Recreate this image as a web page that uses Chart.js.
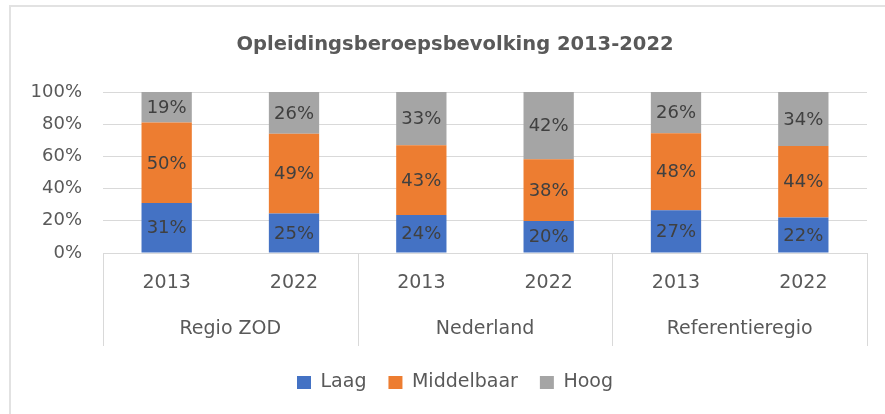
<!DOCTYPE html>
<html>
<head>
<meta charset="utf-8">
<script src="https://cdn.jsdelivr.net/npm/chart.js@4"></script>
<style>
  html, body { margin: 0; padding: 0; background: #fff; overflow: hidden; }
  #wrap { position: relative; width: 885px; height: 414px; overflow: hidden; }
  #frame { position: absolute; left: 9px; top: 5px; width: 1000px; height: 600px;
           border-left: 2px solid #E2E2E2; border-top: 2px solid #E2E2E2; }
  #chart { position: absolute; left: 0; top: 0; }
</style>
</head>
<body>
<div id="wrap">
  <div id="frame"></div>
  <canvas id="chart" width="900" height="414"></canvas>
</div>
<script>
// Opleidingsberoepsbevolking - stacked 100% bars, grouped per regio

const groups = ['Regio ZOD', 'Nederland', 'Referentieregio'];
const years = ['2013', '2022', '2013', '2022', '2013', '2022'];

const laag       = [31.0, 24.6, 23.6, 19.9, 26.6, 22.1];
const middelbaar = [50.0, 49.4, 43.4, 38.4, 47.8, 44.3];
const hoog       = [19.0, 26.0, 33.0, 41.7, 25.6, 33.6];

const yTicks = [0, 20, 40, 60, 80, 100];

const TEXT = '#595959';
const GRID = '#D9D9D9';
const FONT = 'DejaVu Sans';

// values inside every bar segment
const barLabels = {
    id: 'barLabels',
    afterDatasetsDraw(chart) {
        const ctx = chart.ctx;
        ctx.save();
        ctx.font = '18px "' + FONT + '"';
        ctx.fillStyle = '#404040';
        ctx.textAlign = 'center';
        ctx.textBaseline = 'middle';
        chart.data.datasets.forEach((ds, i) => {
            chart.getDatasetMeta(i).data.forEach((bar, j) => {
                const y = (bar.y + bar.base) / 2;
                ctx.fillText(Math.round(ds.data[j]) + '%', bar.x, y + 1);
            });
        });
        ctx.restore();
    }
};

// second row of the category axis: group names + separators
const groupAxis = {
    id: 'groupAxis',
    afterDraw(chart) {
        const x = chart.scales.x;
        const ctx = chart.ctx;
        const top = chart.chartArea.bottom;
        const bottom = x.bottom - 5;
        const per = years.length / groups.length;

        const edges = [chart.chartArea.left];
        for (let g = 1; g < groups.length; g++) {
            edges.push((x.getPixelForValue(g * per - 1) + x.getPixelForValue(g * per)) / 2);
        }
        edges.push(chart.chartArea.right);

        ctx.save();
        ctx.strokeStyle = GRID;
        ctx.lineWidth = 1;
        edges.forEach(e => {
            const px = Math.round(e) + 0.5;
            ctx.beginPath();
            ctx.moveTo(px, top);
            ctx.lineTo(px, bottom);
            ctx.stroke();
        });

        ctx.font = '19px "' + FONT + '"';
        ctx.fillStyle = TEXT;
        ctx.textAlign = 'center';
        ctx.textBaseline = 'middle';
        groups.forEach((name, g) => {
            const cx = (x.getPixelForValue(g * per) + x.getPixelForValue(g * per + per - 1)) / 2;
            ctx.fillText(name, cx, 329);
        });
        ctx.restore();
    }
};

new Chart(document.getElementById('chart'), {
    type: 'bar',
    data: {
        labels: years,
        datasets: [
            { label: 'Laag', data: laag, backgroundColor: '#4472C4' },
            { label: 'Middelbaar', data: middelbaar, backgroundColor: '#ED7D31' },
            { label: 'Hoog', data: hoog, backgroundColor: '#A5A5A5' }
        ]
    },
    options: {
        responsive: false,
        animation: false,
        devicePixelRatio: 1,
        barPercentage: 0.395,
        categoryPercentage: 1,
        layout: { padding: { left: 10, right: 0, top: 0, bottom: 12 } },
        plugins: {
            title: {
                display: true,
                text: 'Opleidingsberoepsbevolking 2013-2022',
                color: TEXT,
                font: { family: FONT, size: 19.5, weight: 'bold' },
                padding: { top: 33.6, bottom: 35 }
            },
            legend: {
                position: 'bottom',
                labels: {
                    color: TEXT,
                    font: { family: FONT, size: 19 },
                    boxWidth: 14,
                    boxHeight: 13,
                    padding: 22
                }
            },
            tooltip: { enabled: false }
        },
        scales: {
            x: {
                stacked: true,
                grid: { display: false, drawTicks: false },
                border: { display: true, color: GRID },
                ticks: { color: TEXT, font: { family: FONT, size: 19 }, padding: 18.6, maxRotation: 0 },
                afterFit: s => { s.height = 98; }
            },
            y: {
                stacked: true,
                min: 0,
                max: 100,
                afterBuildTicks: s => { s.ticks = yTicks.map(v => ({ value: v })); },
                grid: { color: GRID, drawTicks: false },
                border: { display: false },
                ticks: { color: TEXT, font: { family: FONT, size: 18 }, padding: 21, callback: v => v + '%' },
                afterFit: s => { s.width = 93; }
            },
            yRight: {
                position: 'right',
                display: true,
                grid: { display: false, drawTicks: false },
                border: { display: false },
                ticks: { display: false },
                afterFit: s => { s.width = 33; }
            }
        }
    },
    plugins: [barLabels, groupAxis]
});
</script>
</body>
</html>
